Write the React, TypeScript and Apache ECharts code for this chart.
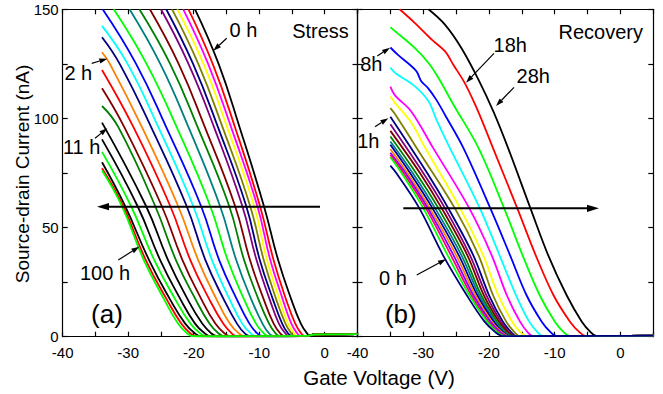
import React, { useEffect, useRef } from 'react';
import * as echarts from 'echarts';

const FONT = '"Liberation Sans", Arial, Helvetica, sans-serif';

// ---------- Panel (a) Stress ----------
// current levels (nA) at which the gate voltage of each curve is read
const stressLevels = [150, 125, 96, 60, 35, 17, 6, 1.5, 0.2];
const stressStartV = -34;
// current at the first point (V = -34) for curves that begin below 150 nA
const stressStartI: (number | null)[] = [
  null, null, null, null, null, null, null, null, null, null, null, null,
  142.4, 137.2, 130.3, 122.2, 113.8, 105.7, 98.1, 90.4, 84.7, 79.9, 77.2, 76.1,
];
// gate voltage (V) at each current level, curve 0 h first
const stressV: (number | null)[][] = [
  [-19.8, -16.2, -13.0, -9.3, -7.1, -5.1, -3.65, -2.7, -2.1],
  [-20.8, -17.1, -13.7, -9.9, -7.8, -5.9, -4.5, -3.6, -3.0],
  [-21.6, -17.8, -14.3, -10.3, -8.3, -6.4, -5.1, -4.2, -3.6],
  [-22.5, -18.5, -14.9, -10.8, -8.8, -6.9, -5.6, -4.7, -4.1],
  [-23.3, -19.3, -15.6, -11.4, -9.3, -7.4, -6.0, -5.1, -4.5],
  [-24.2, -20.1, -16.3, -12.0, -9.9, -7.9, -6.5, -5.6, -4.9],
  [-25.0, -20.8, -16.9, -12.6, -10.4, -8.4, -7.0, -6.0, -5.4],
  [-26.7, -22.3, -18.3, -13.7, -11.4, -9.3, -7.8, -6.8, -6.1],
  [-28.3, -23.6, -19.4, -14.6, -12.3, -10.1, -8.5, -7.5, -6.8],
  [-29.8, -25.1, -20.8, -16.0, -13.5, -11.2, -9.5, -8.5, -7.7],
  [-32.2, -27.2, -22.6, -17.5, -14.8, -12.3, -10.5, -9.3, -8.5],
  [-33.9, -28.8, -24.2, -18.9, -16.1, -13.4, -11.5, -10.3, -9.4],
  [null, -30.1, -25.4, -20.1, -17.2, -14.5, -12.6, -11.3, -10.4],
  [null, -31.3, -26.5, -21.1, -18.2, -15.4, -13.4, -12.2, -11.3],
  [null, -32.8, -27.9, -22.4, -19.3, -16.5, -14.5, -13.1, -12.2],
  [null, null, -29.2, -23.6, -20.5, -17.6, -15.5, -14.2, -13.3],
  [null, null, -30.6, -24.9, -21.7, -18.8, -16.7, -15.3, -14.4],
  [null, null, -31.5, -25.9, -22.7, -19.7, -17.6, -16.2, -15.2],
  [null, null, null, -27.3, -23.9, -20.9, -18.7, -17.3, -16.3],
  [null, null, null, -28.6, -25.1, -22.0, -19.8, -18.3, -17.3],
  [null, null, null, -29.6, -26.0, -22.8, -20.5, -19.0, -18.0],
  [null, null, null, -30.5, -26.8, -23.6, -21.3, -19.8, -18.8],
  [null, null, null, -30.8, -27.3, -24.1, -21.9, -20.5, -19.5],
  [null, null, null, -31.0, -27.6, -24.5, -22.4, -21.0, -20.0],
];
const stressColors = [
  '#000000', '#ff0000', '#ff00ff', '#ffff00', '#808000', '#000080', '#800080', '#800000',
  '#008000', '#008080', '#00ff00', '#0000ff', '#00ffff', '#000080', '#ff8000', '#ff0000',
  '#800000', '#008000', '#000000', '#000000', '#00ff00', '#000000', '#ff0000', '#00ff00',
];
const stressTail: number[][] = [[-2.6, 0.4], [-1.6, 1.0], [5, 1.2]];

// ---------- Panel (b) Recovery ----------
const recoveryCurves: number[][][] = [
  [[-29.2, 150], [-26.7, 143], [-24.2, 132.3], [-21.6, 117.8], [-19.3, 103], [-17.1, 86.5], [-13.7, 58.9], [-11.0, 37.4], [-8.2, 19.1], [-5.9, 7], [-4.5, 2], [-3.6, 0.3]],
  [[-33.6, 150], [-31.3, 143.8], [-28.7, 136.1], [-26.7, 130.8], [-25.4, 124.5], [-23.7, 116.3], [-22.1, 106.3], [-20.6, 95.6], [-19.4, 86.5], [-15.7, 58.9], [-12.9, 37.4], [-10.2, 19.1], [-7.7, 7], [-6.2, 2], [-5.2, 0.3]],
  [[-35, 141.8], [-34.3, 140], [-31.3, 132.3], [-29.2, 125.4], [-27.7, 118.6], [-25.4, 106.3], [-21.6, 86.5], [-17.7, 58.9], [-14.9, 37.4], [-12.3, 19.1], [-10.0, 7], [-8.6, 2], [-7.7, 0.3]],
  [[-35, 132.5], [-33.8, 129], [-32.0, 124.5], [-31.0, 121.5], [-30.3, 117], [-29.3, 114], [-28.0, 108.5], [-26.7, 101.7], [-23.9, 86.5], [-19.8, 58.9], [-16.8, 37.4], [-14.3, 19.1], [-12.0, 7], [-10.6, 2], [-9.7, 0.3]],
  [[-35, 123.3], [-34.3, 120.9], [-31.3, 114.8], [-29.2, 107.9], [-28.0, 99.5], [-26.2, 88], [-21.4, 58.9], [-18.4, 37.4], [-15.9, 19.1], [-13.9, 7], [-12.6, 2], [-11.8, 0.3]],
  [[-35, 114.6], [-34.3, 110.6], [-31.8, 103.1], [-28.5, 86.5], [-23.0, 58.9], [-19.6, 37.4], [-17.3, 19.1], [-15.3, 7], [-14.1, 2], [-13.3, 0.3]],
  [[-35, 110], [-34.3, 107.1], [-31.8, 98], [-29.7, 86.5], [-24.4, 58.9], [-20.9, 37.4], [-18.6, 19.1], [-16.5, 7], [-15.2, 2], [-14.3, 0.3]],
  [[-35, 104.7], [-34.3, 102], [-31.0, 86.5], [-25.2, 58.9], [-21.6, 37.4], [-19.4, 19.1], [-17.4, 7], [-16.1, 2], [-15.3, 0.3]],
  [[-35, 100.8], [-29.4, 75], [-26.2, 58.9], [-22.4, 37.4], [-20.0, 19.1], [-17.9, 7], [-16.6, 2], [-15.8, 0.3]],
  [[-35, 97.3], [-30.0, 75], [-26.7, 58.9], [-22.9, 37.4], [-20.4, 19.1], [-18.2, 7], [-16.9, 2], [-16.0, 0.3]],
  [[-35, 94.3], [-30.5, 75], [-27.2, 58.9], [-23.3, 37.4], [-20.8, 19.1], [-18.5, 7], [-17.1, 2], [-16.2, 0.3]],
  [[-35, 91.7], [-31.1, 75], [-27.7, 58.9], [-23.8, 37.4], [-21.2, 19.1], [-18.8, 7], [-17.4, 2], [-16.4, 0.3]],
  [[-35, 89.4], [-31.6, 75], [-28.2, 58.9], [-24.2, 37.4], [-21.5, 19.1], [-19.1, 7], [-17.6, 2], [-16.6, 0.3]],
  [[-35, 87.9], [-32.0, 75], [-28.6, 58.9], [-24.6, 37.4], [-21.8, 19.1], [-19.3, 7], [-17.8, 2], [-16.8, 0.3]],
  [[-35, 85.9], [-32.4, 75], [-29.0, 58.9], [-25.0, 37.4], [-22.1, 19.1], [-19.6, 7], [-18.0, 2], [-17.0, 0.3]],
  [[-35, 84.3], [-32.7, 75], [-29.3, 58.9], [-25.4, 37.4], [-22.4, 19.1], [-19.8, 7], [-18.2, 2], [-17.2, 0.3]],
  [[-35, 83.3], [-33.0, 75], [-29.6, 58.9], [-25.8, 37.4], [-22.7, 19.1], [-20.1, 7], [-18.5, 2], [-17.4, 0.3]],
  [[-35, 82.2], [-33.3, 75], [-30.0, 58.9], [-26.3, 37.4], [-23.0, 19.1], [-20.3, 7], [-18.7, 2], [-17.6, 0.3]],
  [[-35, 78.4], [-34.1, 75], [-30.6, 58.9], [-27.0, 37.4], [-23.4, 19.1], [-20.7, 7], [-19.0, 2], [-17.9, 0.3]],
];
const recoveryColors = [
  '#000000', '#ff0000', '#00ff00', '#0000ff', '#00ffff', '#ff00ff', '#ffff00', '#808000',
  '#000080', '#800080', '#800000', '#008000', '#008080', '#0000a0', '#ff8000', '#8000ff',
  '#ff0080', '#00ff00', '#000080',
];
const recoveryTail: number[][] = [[-1, 0.35], [5, 0.45]];

// axis ticks
const xMin = -40, xMax = 5, xTickStep = 5, xLabelStep = 10;
const yMin = 0, yMax = 150, yTickStep = 25, yLabelStep = 50;

function stressPoints(i: number): number[][] {
  const pts: number[][] = [];
  const s = stressStartI[i];
  if (s != null) pts.push([stressStartV, s]);
  stressV[i].forEach((v, k) => {
    if (v != null) pts.push([v, stressLevels[k]]);
  });
  const lastX = pts[pts.length - 1][0];
  stressTail.forEach((p) => {
    if (p[0] > lastX + 0.3) pts.push(p);
  });
  return pts;
}

function recoveryPoints(i: number): number[][] {
  const pts = recoveryCurves[i].slice();
  const lastX = pts[pts.length - 1][0];
  recoveryTail.forEach((p) => {
    if (p[0] > lastX + 0.3) pts.push(p);
  });
  return pts;
}

const axisLineStyle = { color: '#000', width: 1.2 };

function xAxis(grid: number, position: 'top' | 'bottom', labels: boolean) {
  return {
    type: 'value', gridIndex: grid, position, min: xMin, max: xMax, interval: xTickStep,
    axisLine: { show: true, onZero: false, lineStyle: axisLineStyle },
    axisTick: { show: true, inside: true, length: 5, lineStyle: axisLineStyle },
    axisLabel: {
      show: labels, color: '#000', fontSize: 15, fontFamily: FONT, margin: 8,
      formatter: (v: number) => (v % xLabelStep === 0 && v <= 0 ? String(v) : ''),
    },
    splitLine: { show: false },
  };
}

function yAxis(grid: number, position: 'left' | 'right', labels: boolean) {
  return {
    type: 'value', gridIndex: grid, position, min: yMin, max: yMax, interval: yTickStep,
    axisLine: { show: true, onZero: false, lineStyle: axisLineStyle },
    axisTick: { show: true, inside: true, length: 5, lineStyle: axisLineStyle },
    axisLabel: {
      show: labels, color: '#000', fontSize: 15, fontFamily: FONT, margin: 4,
      formatter: (v: number) => (v % yLabelStep === 0 ? String(v) : ''),
    },
    splitLine: { show: false },
  };
}

function txt(text: string, x: number, y: number, size = 20, rotation = 0) {
  return {
    type: 'text', x, y, rotation, z: 100,
    style: {
      text, fill: '#000', font: `${size}px ${FONT}`,
      textAlign: 'center', textVerticalAlign: 'middle',
    },
  };
}

function arrow(x1: number, y1: number, x2: number, y2: number, head = 8, half = 2.6, w = 1.2) {
  const dx = x2 - x1, dy = y2 - y1;
  const L = Math.hypot(dx, dy);
  const ux = dx / L, uy = dy / L;
  const bx = x2 - ux * head, by = y2 - uy * head;
  return [
    { type: 'line', z: 100, shape: { x1, y1, x2: bx, y2: by }, style: { stroke: '#000', lineWidth: w } },
    {
      type: 'polygon', z: 100,
      shape: { points: [[x2, y2], [bx - uy * half, by + ux * half], [bx + uy * half, by - ux * half]] },
      style: { fill: '#000' },
    },
  ];
}

export default function App() {
  const ref = useRef<HTMLDivElement>(null);
  useEffect(() => {
    if (!ref.current) return;
    const chart = echarts.init(ref.current, undefined, { renderer: 'svg' });

    const series: any[] = [];
    stressColors.forEach((c, i) => {
      series.push({
        type: 'line', xAxisIndex: 0, yAxisIndex: 0, data: stressPoints(i),
        showSymbol: false, symbol: 'none', smooth: 0.45, silent: true,
        lineStyle: { color: c, width: 1.8 },
      });
    });
    recoveryColors.forEach((c, i) => {
      series.push({
        type: 'line', xAxisIndex: 2, yAxisIndex: 2, data: recoveryPoints(i),
        showSymbol: false, symbol: 'none', smooth: 0.35, silent: true,
        lineStyle: { color: c, width: 1.8 },
      });
    });

    const graphic: any[] = [
      txt('Source-drain Current (nA)', 22, 174, 19, Math.PI / 2),
      txt('Gate Voltage (V)', 379, 377, 20.5),
      txt('0 h', 243.5, 29.5),
      txt('Stress', 320.5, 31),
      txt('2 h', 78.3, 72.5),
      txt('11 h', 81.7, 146.7),
      txt('100 h', 105, 272.5),
      txt('(a)', 107, 314, 26),
      txt('Recovery', 600.7, 32),
      txt('18h', 510.3, 45),
      txt('28h', 533.3, 75.8),
      txt('8h', 371.3, 64.2),
      txt('1h', 368.3, 140.8),
      txt('0 h', 393, 277.5),
      txt('(b)', 400.8, 314, 26),
      ...arrow(226.7, 38.3, 213.3, 50.7),
      ...arrow(91.7, 63.3, 107.3, 58.7),
      ...arrow(95, 138.3, 107.3, 128.3),
      ...arrow(118.3, 260, 139.3, 246.7),
      ...arrow(494, 53.3, 466, 82.7),
      ...arrow(514, 87.3, 496, 106),
      ...arrow(377.3, 56, 390, 47.7),
      ...arrow(375, 126.7, 388.3, 118.3),
      ...arrow(416.7, 275, 446, 259.3),
      ...arrow(320, 206.7, 97, 206.7, 12, 3.6, 2),
      ...arrow(403.3, 208.3, 599, 208.3, 12, 3.6, 2),
    ];

    chart.setOption({
      animation: false,
      backgroundColor: '#ffffff',
      grid: [
        { left: 62.7, top: 9.3, width: 294.8, height: 327.4 },
        { left: 357.5, top: 9.3, width: 295.8, height: 327.4 },
      ],
      xAxis: [xAxis(0, 'bottom', true), xAxis(0, 'top', false), xAxis(1, 'bottom', true), xAxis(1, 'top', false)],
      yAxis: [yAxis(0, 'left', true), yAxis(0, 'right', false), yAxis(1, 'left', false), yAxis(1, 'right', false)],
      series,
      graphic,
    });
    return () => chart.dispose();
  }, []);
  return <div ref={ref} style={{ position: 'fixed', left: 0, top: 0, width: 663, height: 394 }} />;
}
